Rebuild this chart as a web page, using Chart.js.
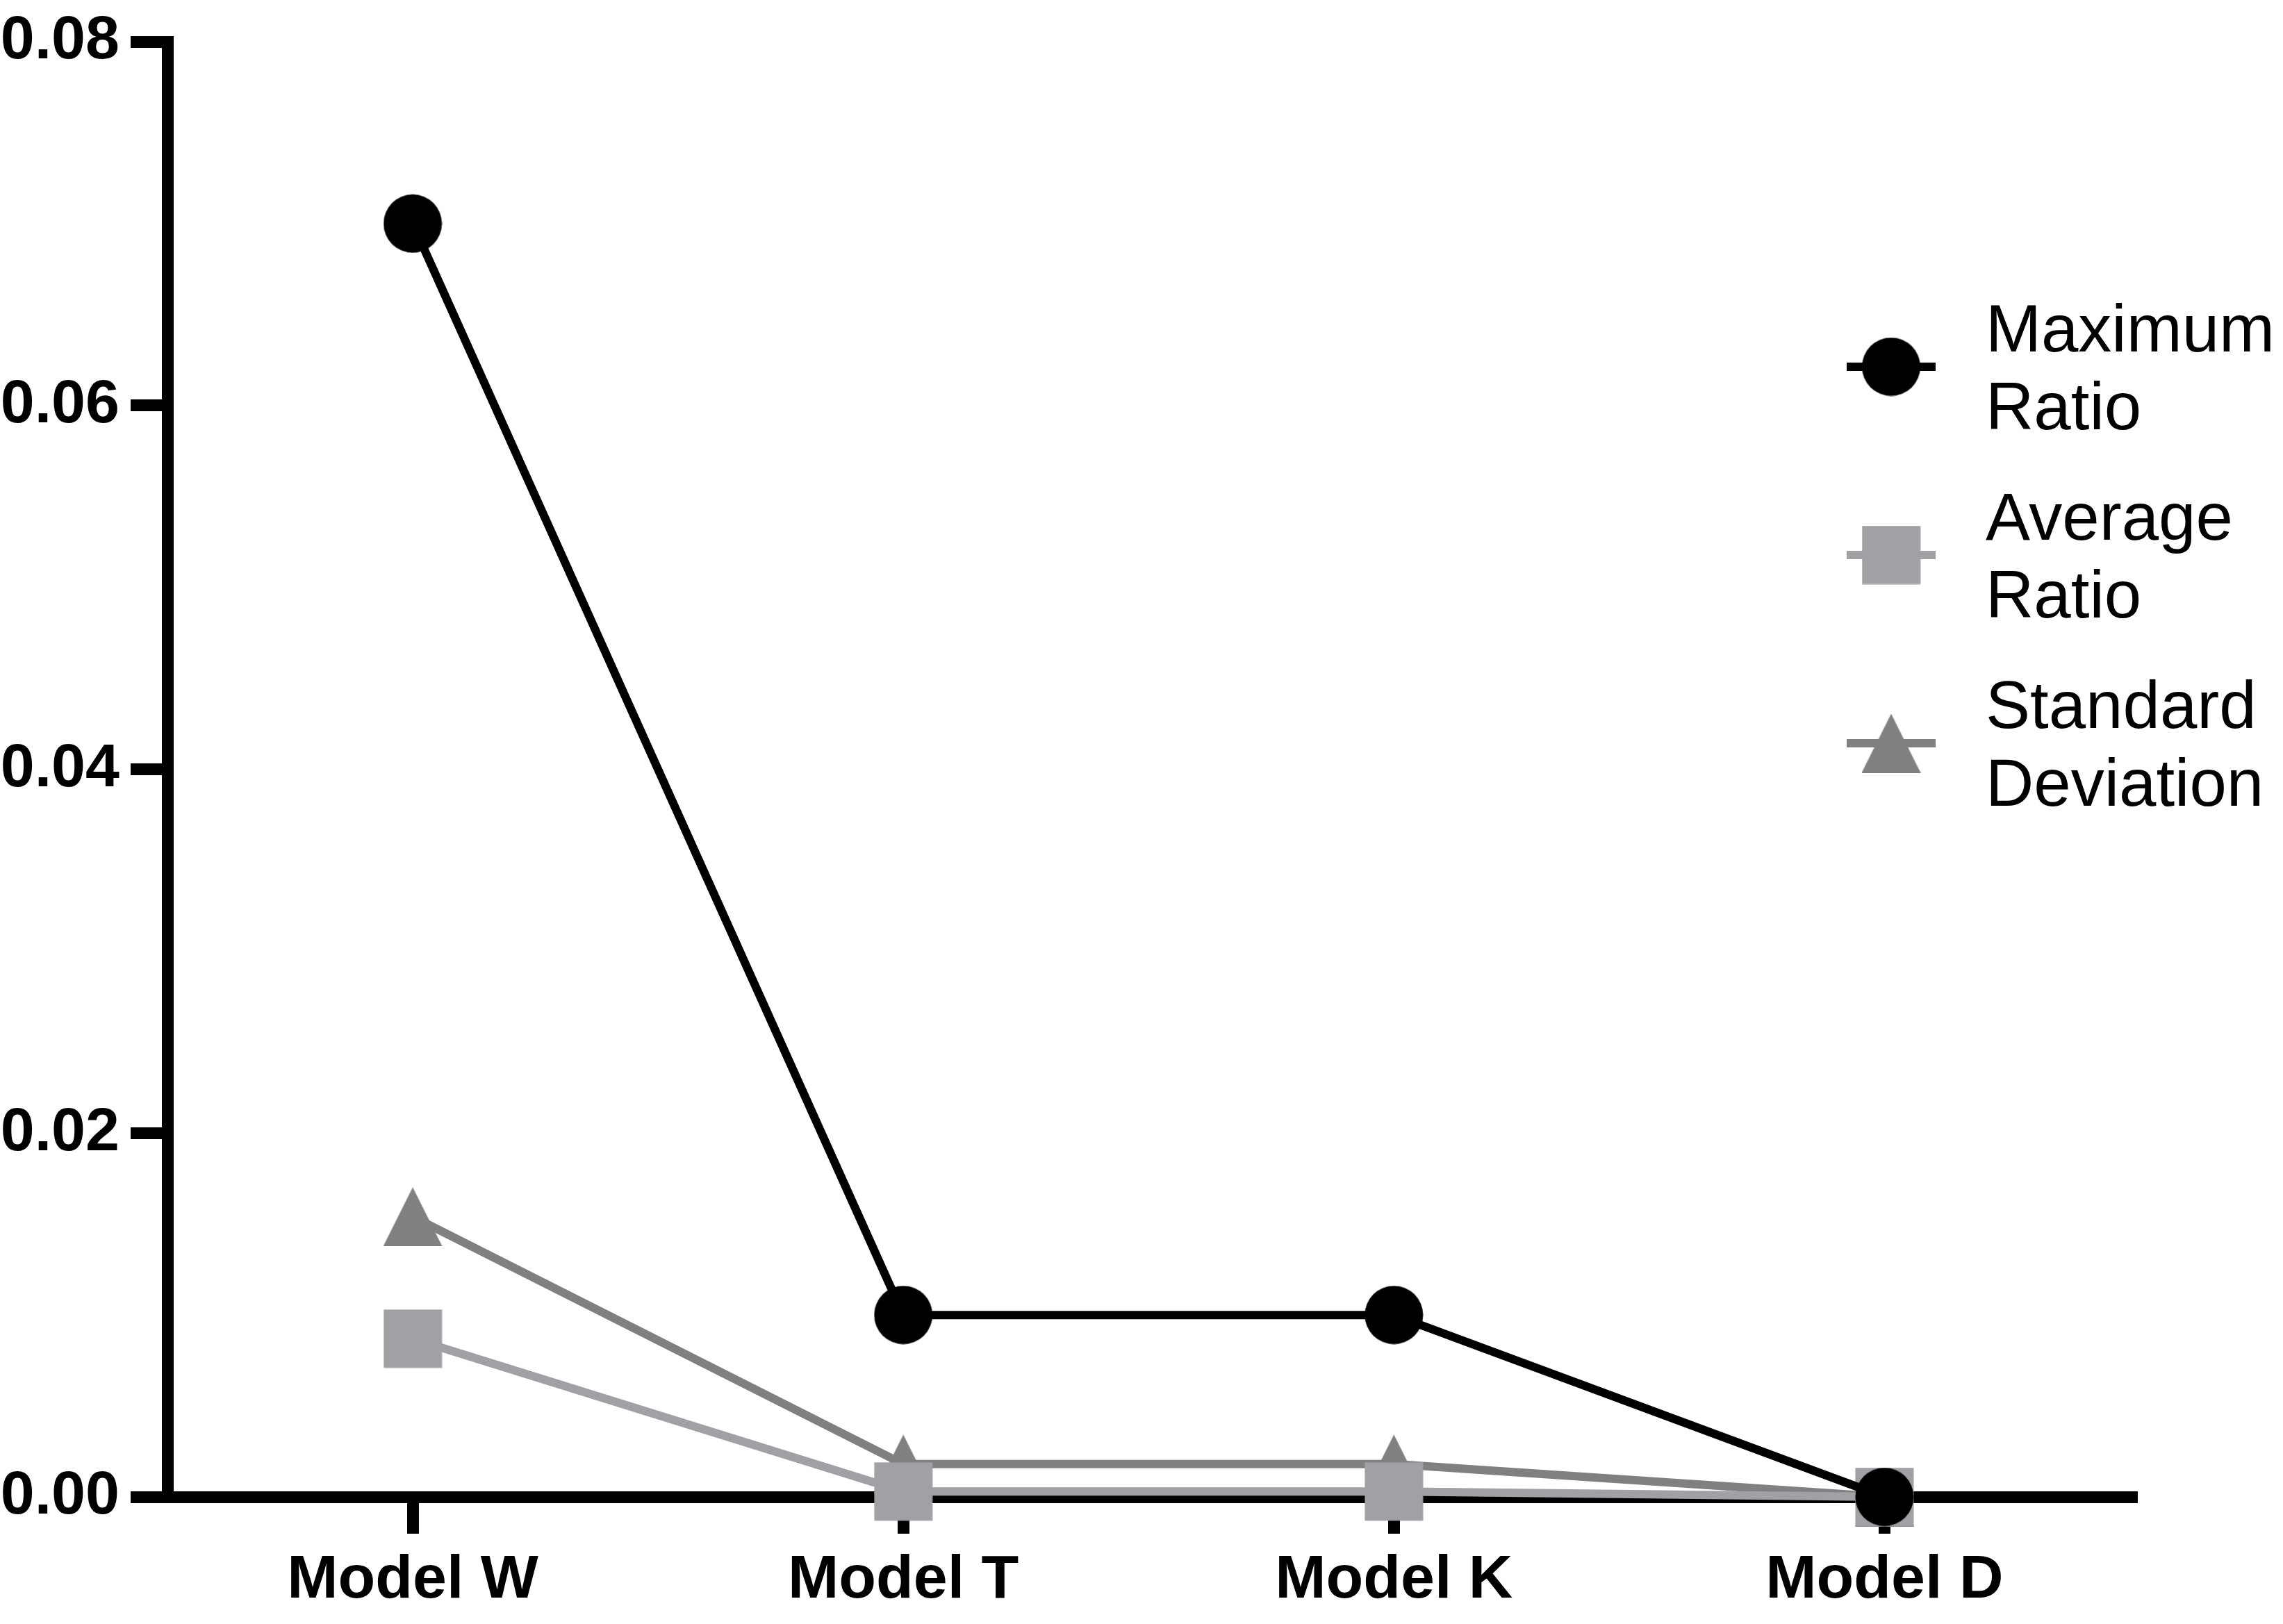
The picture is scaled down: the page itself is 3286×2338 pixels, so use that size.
<!DOCTYPE html>
<html>
<head>
<meta charset="utf-8">
<script src="https://cdn.jsdelivr.net/npm/chart.js@4.4.0/dist/chart.umd.min.js"></script>
<style>
  html, body { margin: 0; padding: 0; background: #fff; }
  #wrap { width: 3286px; height: 2338px; position: relative; }
</style>
</head>
<body>
<div id="wrap"><canvas id="chart"></canvas></div>
<script>
const models = ["Model W", "Model T", "Model K", "Model D"];
const maxRatio = [0.070, 0.010, 0.010, 0.000];
const avgRatio = [0.0087, 0.0003, 0.0003, 0.000];
const stdDev = [0.0154, 0.0018, 0.0018, 0.000];
const seriesNames = ["Maximum Ratio", "Average Ratio", "Standard Deviation"];
const yTicks = [0, 0.02, 0.04, 0.06, 0.08];

// categories sit at 0..3 on a linear x axis
const toPoints = arr => arr.map((v, i) => ({ x: i, y: v }));

// marker images, prism style
function marker(shape, color) {
  const c = document.createElement("canvas");
  c.width = 85; c.height = 85;
  const g = c.getContext("2d");
  g.fillStyle = color;
  g.beginPath();
  if (shape === "circle") {
    g.arc(42.5, 42.5, 42, 0, Math.PI * 2);
  } else if (shape === "square") {
    g.rect(0.5, 0.5, 84, 84);
  } else {
    g.moveTo(42.5, 0);
    g.lineTo(85, 85);
    g.lineTo(0, 85);
    g.closePath();
  }
  g.fill();
  return c;
}

const sideLegend = {
  id: "sideLegend",
  afterDraw(chart) {
    const ctx = chart.ctx;
    const x0 = chart.chartArea.right - 418;
    ctx.save();
    ctx.font = "96px 'Liberation Sans', Arial, sans-serif";
    ctx.textAlign = "left";
    ctx.textBaseline = "alphabetic";
    chart.data.datasets.forEach((ds, i) => {
      const cy = 528 + i * 271;
      ctx.strokeStyle = ds.borderColor;
      ctx.lineWidth = 12;
      ctx.beginPath();
      ctx.moveTo(x0, cy);
      ctx.lineTo(x0 + 128, cy);
      ctx.stroke();
      const img = ds.pointStyle;
      ctx.drawImage(img, x0 + 64 - img.width / 2, cy - img.height / 2);
      const words = ds.label.split(" ");
      ctx.fillStyle = "#000";
      ctx.fillText(words[0], x0 + 200, cy - 22);
      ctx.fillText(words.slice(1).join(" "), x0 + 200, cy + 90);
    });
    ctx.restore();
  }
};

const tickFont = { family: "'Liberation Sans', Arial, sans-serif", weight: "bold", size: 88, lineHeight: 1 };

new Chart(document.getElementById("chart"), {
  type: "line",
  data: {
    datasets: [
      {
        label: seriesNames[0],
        data: toPoints(maxRatio),
        borderColor: "#000000",
        backgroundColor: "#000000",
        borderWidth: 12,
        pointStyle: marker("circle", "#000000"),
        pointRadius: 42,
        clip: false
      }, {
        label: seriesNames[1],
        data: toPoints(avgRatio),
        borderColor: "#A0A0A5",
        backgroundColor: "#A0A0A5",
        borderWidth: 12,
        pointStyle: marker("square", "#A0A0A5"),
        pointRadius: 42,
        clip: false
      }, {
        label: seriesNames[2],
        data: toPoints(stdDev),
        borderColor: "#808080",
        backgroundColor: "#808080",
        borderWidth: 12,
        pointStyle: marker("triangle", "#808080"),
        pointRadius: 42,
        clip: false
      }
    ]
  },
  options: {
    responsive: true,
    maintainAspectRatio: false,
    devicePixelRatio: 1,
    animation: false,
    layout: { autoPadding: false, padding: { left: 0, top: 46, right: 210, bottom: 0 } },
    plugins: {
      legend: { display: false },
      tooltip: { enabled: false }
    },
    scales: {
      x: {
        type: "linear",
        min: -0.5,
        max: 3.515,
        afterFit: s => { s.height = 183; },
        afterBuildTicks: s => { s.ticks = models.map((m, i) => ({ value: i })); },
        border: { display: true, color: "#000", width: 17 },
        grid: { drawOnChartArea: false, drawTicks: true, tickLength: 53, tickWidth: 17, tickColor: "#000" },
        ticks: { color: "#000", font: tickFont, padding: 24, maxRotation: 0, autoSkip: false, callback: v => models[v] }
      },
      y: {
        min: 0,
        max: 0.08,
        afterFit: s => { s.width = 241; },
        afterBuildTicks: s => { s.ticks = yTicks.map(v => ({ value: v })); },
        border: { display: true, color: "#000", width: 17 },
        grid: { drawOnChartArea: false, drawTicks: true, tickLength: 53, tickWidth: 17, tickColor: "#000" },
        ticks: { color: "#000", font: tickFont, padding: 16, callback: v => v.toFixed(2) }
      }
    }
  },
  plugins: [sideLegend]
});
</script>
</body>
</html>
